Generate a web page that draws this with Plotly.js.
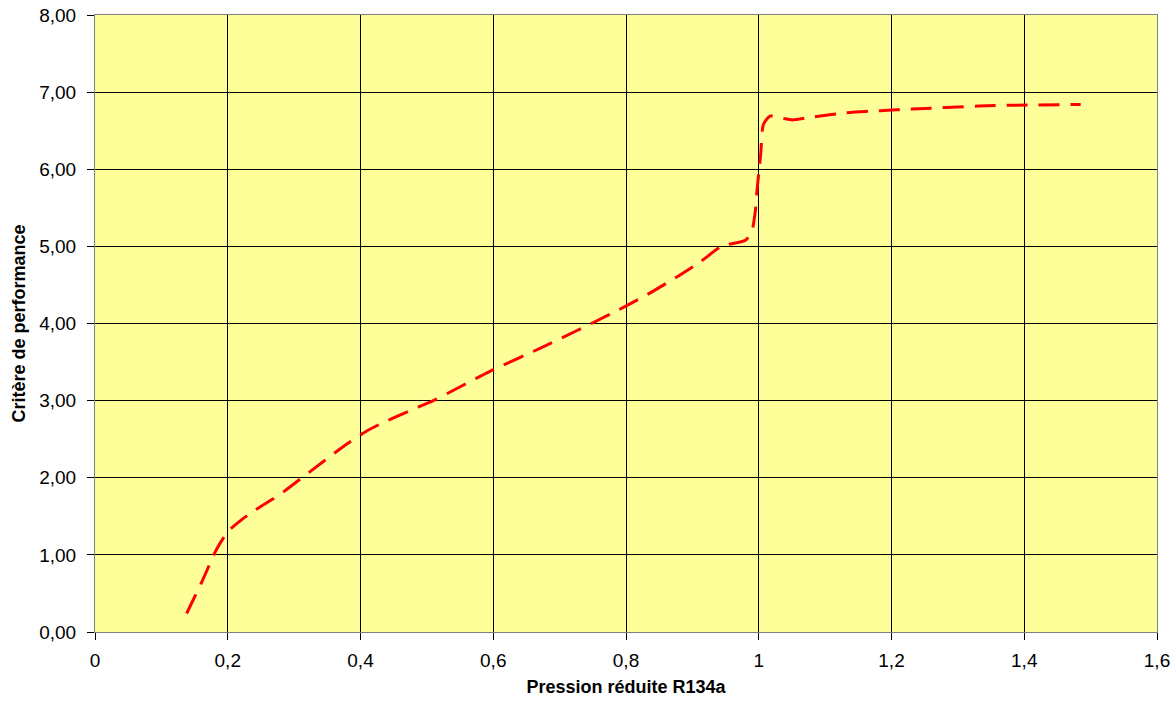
<!DOCTYPE html>
<html>
<head>
<meta charset="utf-8">
<script src="https://cdn.plot.ly/plotly-3.0.1.min.js"></script>
<style>html,body{margin:0;padding:0;background:#fff;}#chart{width:1175px;height:703px;}</style>
</head>
<body>
<div id="chart"></div>
<script>
const pressionReduite = [0.138, 0.161, 0.183, 0.200, 0.223, 0.241, 0.269, 0.286, 0.324, 0.367, 0.385, 0.410, 0.440, 0.477, 0.512, 0.595, 0.676, 0.776, 0.829, 0.874, 0.912, 0.944, 0.980, 0.990, 0.995, 0.997, 1.000, 1.003, 1.007, 1.017, 1.037, 1.050, 1.083, 1.130, 1.183, 1.231, 1.331, 1.384, 1.485];
const criterePerformance = [0.24, 0.65, 1.07, 1.30, 1.47, 1.58, 1.73, 1.83, 2.08, 2.36, 2.47, 2.61, 2.74, 2.88, 3.01, 3.38, 3.70, 4.12, 4.36, 4.59, 4.80, 5.00, 5.08, 5.21, 5.47, 5.69, 5.95, 6.20, 6.58, 6.69, 6.66, 6.64, 6.68, 6.73, 6.76, 6.78, 6.82, 6.83, 6.84];
const xTicks = [0, 0.2, 0.4, 0.6, 0.8, 1, 1.2, 1.4, 1.6];
const yTicks = [0, 1, 2, 3, 4, 5, 6, 7, 8];

const trace = {
  x: pressionReduite,
  y: criterePerformance,
  type: 'scatter',
  mode: 'lines',
  line: {color: '#FF0000', width: 3, dash: '21px,11px', shape: 'spline', smoothing: 0.6},
  hoverinfo: 'skip'
};

const layout = {
  width: 1175,
  height: 703,
  paper_bgcolor: '#FFFFFF',
  plot_bgcolor: '#FFFF99',
  separators: ', ',
  margin: {l: 95, r: 18, t: 15, b: 71},
  showlegend: false,
  font: {family: 'Liberation Sans, Arial, sans-serif', size: 19, color: '#000'},
  xaxis: {
    range: [0, 1.6],
    tickvals: xTicks,
    tickformat: '.1~f',
    showgrid: true, gridcolor: '#000000', gridwidth: 1,
    zeroline: false,
    showline: true, linecolor: '#808080', linewidth: 1, mirror: true,
    ticks: 'outside', ticklen: 7, tickcolor: '#000',
    ticklabelstandoff: 4,
    tickfont: {size: 19},
    title: {text: '<b>Pression réduite R134a</b>', font: {size: 18}, standoff: 10}
  },
  yaxis: {
    range: [0, 8],
    tickvals: yTicks,
    tickformat: '.2f',
    showgrid: true, gridcolor: '#000000', gridwidth: 1,
    zeroline: false,
    showline: true, linecolor: '#808080', linewidth: 1, mirror: true,
    ticks: 'outside', ticklen: 7, tickcolor: '#000',
    ticklabelstandoff: 7,
    tickfont: {size: 19},
    title: {text: '<b>Critère de performance</b>', font: {size: 18}, standoff: 8}
  }
};

Plotly.newPlot('chart', [trace], layout, {displayModeBar: false, staticPlot: true});
</script>
</body>
</html>
